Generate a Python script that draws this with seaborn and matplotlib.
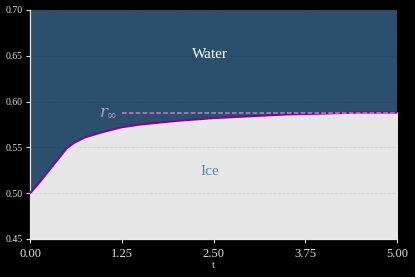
import matplotlib
matplotlib.use("Agg")
import matplotlib.pyplot as plt
import seaborn as sns
import numpy as np

# interface position r(t)
t = [0.0, 0.1, 0.2, 0.3, 0.4, 0.5, 0.6, 0.75, 1.0, 1.25, 1.5, 2.0, 2.5, 3.0, 3.5, 4.0, 4.5, 5.0]
r = [0.500, 0.509, 0.519, 0.529, 0.539, 0.549, 0.555, 0.561, 0.567, 0.572, 0.575, 0.579, 0.582, 0.584, 0.586, 0.587, 0.588, 0.588]
r_inf = 0.588
xticks = [0.0, 1.25, 2.5, 3.75, 5.0]
yticks = [0.45, 0.50, 0.55, 0.60, 0.65, 0.70]

sns.set_style("dark")
plt.rcParams['font.family'] = ['Liberation Serif', 'DejaVu Serif']
plt.rcParams['mathtext.fontset'] = 'dejavuserif'

fig = plt.figure(figsize=(4.15, 2.77), dpi=100, facecolor='black')
ax = fig.add_axes([30 / 415, 38 / 277, 367 / 415, 229 / 277])
ax.set_facecolor('#2b4f6d')

ax.fill_between(t, 0.45, r, color='#e6e6e6', zorder=1)
sns.lineplot(x=t, y=r, ax=ax, color='#8b008b', linewidth=1.5, zorder=3)
ax.plot([1.25, 5.0], [r_inf, r_inf], color='#c77dc7', linestyle=(0, (3, 1.5)), linewidth=1.1, zorder=4)

ax.text(1.07, r_inf, r'$r_\infty$', color='#c79ac9', fontsize=12, ha='center', va='center')
ax.text(2.45, 0.651, 'Water', color='white', fontsize=11, ha='center', va='center')
ax.text(2.45, 0.524, 'Ice', color='#5b84ac', fontsize=11, ha='center', va='center')

ax.set_xlim(0, 5)
ax.set_ylim(0.45, 0.70)
ax.set_xticks(xticks)
ax.set_xticklabels(['%.2f' % v for v in xticks])
ax.set_yticks(yticks)
ax.set_yticklabels(['%.2f' % v for v in yticks])
ax.grid(True, axis='y', linestyle='--', linewidth=0.6, color='black', alpha=0.08, zorder=2)
ax.grid(False, axis='x')
ax.set_axisbelow(False)

ax.tick_params(axis='x', colors='#e0e0e0', labelsize=9, length=3, width=0.8, direction='out', bottom=True)
ax.tick_params(axis='y', colors='#e0e0e0', labelsize=7, length=3, width=0.8, direction='out', left=True, pad=2)
ax.set_xlabel('t', color='#e0e0e0', fontsize=8, labelpad=1)
for side in ['top', 'right']:
    ax.spines[side].set_visible(False)
for side in ['left', 'bottom']:
    ax.spines[side].set_color('#e8e8e8')
    ax.spines[side].set_linewidth(0.9)

fig.savefig('out.png', dpi=100, facecolor='black')
